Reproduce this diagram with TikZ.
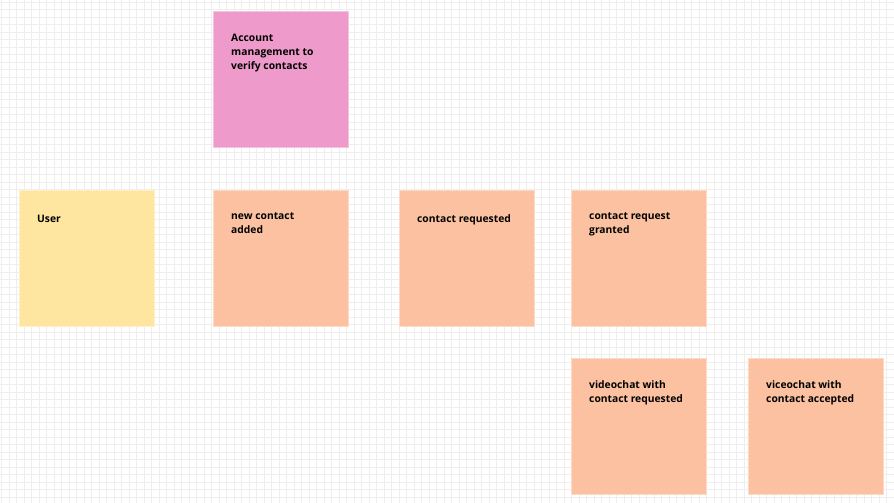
\documentclass[tikz,border=0pt]{standalone}
\usepackage{fontspec}
\setmainfont{Open Sans}
\definecolor{gridc}{RGB}{238,238,238}
\definecolor{pinkc}{RGB}{238,154,202}
\definecolor{peachc}{RGB}{251,193,160}
\definecolor{yellowc}{RGB}{255,230,160}
\tikzset{
  sticky/.style={rectangle, anchor=north west, inner sep=0pt, minimum width=135bp, minimum height=136bp, line width=1bp},
  pinknote/.style={sticky, fill=pinkc, draw=pinkc!60!white},
  peachnote/.style={sticky, fill=peachc, draw=peachc!60!white},
  yellownote/.style={sticky, fill=yellowc, draw=yellowc!60!white},
  notetext/.style={anchor=north west, inner sep=0pt, align=left, text=black,
    font=\fontsize{10.3bp}{14bp}\selectfont\bfseries, execute at begin node=\strut}
}
\begin{document}
\begin{tikzpicture}[x=1bp,y=-1bp]
\useasboundingbox (0,0) rectangle (894,503);
\fill[white] (0,0) rectangle (894,503);
\foreach \i in {0,...,120} {
  \draw[gridc, line width=0.8bp] ({1.7+\i*7.5},0) -- ({1.7+\i*7.5},503);
}
\foreach \j in {0,...,68} {
  \draw[gridc, line width=0.8bp] (0,{2+\j*7.5}) -- (894,{2+\j*7.5});
}
% notes
\node[pinknote] (acc) at (213,11) {};
\node[yellownote] (user) at (19,190) {};
\node[peachnote] (nca) at (213,190) {};
\node[peachnote] (creq) at (399,190) {};
\node[peachnote] (cgr) at (571,190) {};
\node[peachnote] (vreq) at (571,358) {};
\node[peachnote] (vacc) at (748,358) {};
% texts
\node[notetext] (taccount) at ([shift={(18,22.5)}]acc.north west) {Account\\management to\\verify contacts};
\node[notetext] (tuser) at ([shift={(18,22.5)}]user.north west) {User};
\node[notetext] (tnca) at ([shift={(18,22.5)}]nca.north west) {new contact\\added};
\node[notetext] (tcreq) at ([shift={(18,22.5)}]creq.north west) {contact requested};
\node[notetext] (tcgr) at ([shift={(18,22.5)}]cgr.north west) {contact request\\granted};
\node[notetext] (tvreq) at ([shift={(18,22.5)}]vreq.north west) {videochat with\\contact requested};
\node[notetext] (tvacc) at ([shift={(18,22.5)}]vacc.north west) {viceochat with\\contact accepted};
\end{tikzpicture}
\end{document}
